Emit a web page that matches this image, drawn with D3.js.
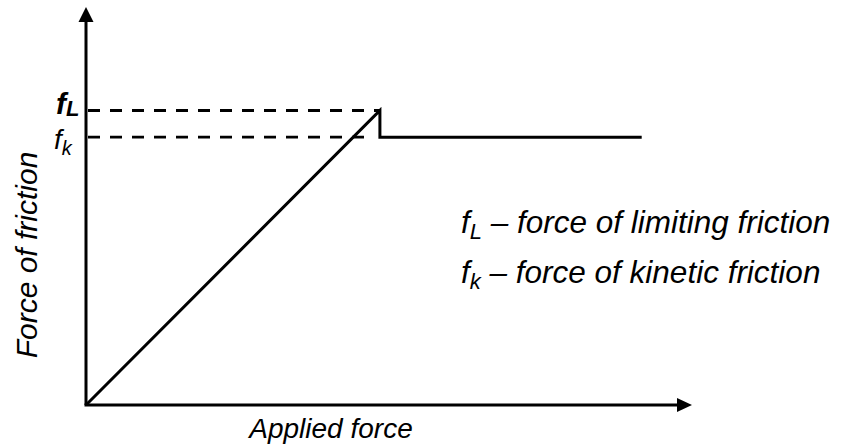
<!DOCTYPE html>
<html>
<head>
<meta charset="utf-8">
<script src="https://cdn.jsdelivr.net/npm/d3@7"></script>
<style>
body{margin:0;background:#fff;}
text{font-family:"Liberation Sans",Arial,sans-serif;font-style:italic;fill:#000;}
</style>
</head>
<body>
<div id="chart"></div>
<script>
// axis extent (arrow tips), in chart units
const axisMax = [100, 100];
// friction levels
const forceLimit = 74;
const forceKinetic = 67.3;
// friction vs applied force
const frictionCurve = [[0, 0], [48.5, 74], [48.5, 67.3], [91.7, 67.3]];
const legendRows = [
  {sym: "f", sub: "L", txt: " \u2013 force of limiting friction"},
  {sym: "f", sub: "k", txt: " \u2013 force of kinetic friction"}
];

const w = 848, h = 445;
const svg = d3.select("#chart").append("svg")
  .attr("width", w).attr("height", h);

const xscale = d3.scaleLinear().domain([0, 100]).range([86, 692]);
const yscale = d3.scaleLinear().domain([0, 100]).range([405, 7]);

// dashed guide lines
[forceLimit, forceKinetic].forEach(function(v){
  const xEnd = frictionCurve[1][0] * (v / frictionCurve[1][1]);
  svg.append("line")
    .attr("x1", xscale(0) + 2).attr("x2", xscale(Math.max(xEnd, frictionCurve[1][0] - 1.3)))
    .attr("y1", yscale(v)).attr("y2", yscale(v))
    .attr("stroke", "#000").attr("stroke-width", 2.8)
    .attr("stroke-dasharray", "12,10");
});

// axes
svg.append("line")
  .attr("x1", xscale(0)).attr("y1", yscale(0))
  .attr("x2", xscale(0)).attr("y2", yscale(axisMax[1]) + 10)
  .attr("stroke", "#000").attr("stroke-width", 3);
svg.append("line")
  .attr("x1", xscale(0) - 1.5).attr("y1", yscale(0))
  .attr("x2", xscale(axisMax[0]) - 10).attr("y2", yscale(0))
  .attr("stroke", "#000").attr("stroke-width", 3);

// arrow heads
const yt = [xscale(0), yscale(axisMax[1])];
svg.append("path")
  .attr("d", `M${yt[0]},${yt[1]}L${yt[0] - 7.5},${yt[1] + 15}L${yt[0] + 7.5},${yt[1] + 15}Z`)
  .attr("fill", "#000");
const xt = [xscale(axisMax[0]), yscale(0)];
svg.append("path")
  .attr("d", `M${xt[0]},${xt[1]}L${xt[0] - 15},${xt[1] - 7}L${xt[0] - 15},${xt[1] + 7}Z`)
  .attr("fill", "#000");

// friction curve
const line = d3.line().x(d => xscale(d[0])).y(d => yscale(d[1]));
svg.append("path")
  .attr("d", line(frictionCurve))
  .attr("fill", "none").attr("stroke", "#000")
  .attr("stroke-width", 3).attr("stroke-linejoin", "miter");

// level labels
const fl = svg.append("text").attr("x", 56).attr("y", yscale(forceLimit) + 4)
  .style("font-weight", "bold").style("font-size", "30px");
fl.append("tspan").text("f");
fl.append("tspan").attr("dy", 2).style("font-size", "22px").text("L");

const fk = svg.append("text").attr("x", 54).attr("y", yscale(forceKinetic) + 12)
  .style("font-size", "28px");
fk.append("tspan").text("f");
fk.append("tspan").attr("dy", 6).style("font-size", "20px").text("k");

// axis titles
svg.append("text")
  .attr("transform", "translate(37,255) rotate(-90)")
  .attr("text-anchor", "middle")
  .style("font-size", "30px")
  .text("Force of friction");
svg.append("text")
  .attr("x", 331).attr("y", 438)
  .attr("text-anchor", "middle")
  .style("font-size", "28px")
  .text("Applied force");

// legend
legendRows.forEach(function(r, i){
  const t = svg.append("text").attr("x", 461).attr("y", 233 + i * 50)
    .style("font-size", "31.5px");
  t.append("tspan").text(r.sym);
  t.append("tspan").attr("dy", 6).style("font-size", "22px").text(r.sub);
  t.append("tspan").attr("dy", -6).text(r.txt);
});
</script>
</body>
</html>
